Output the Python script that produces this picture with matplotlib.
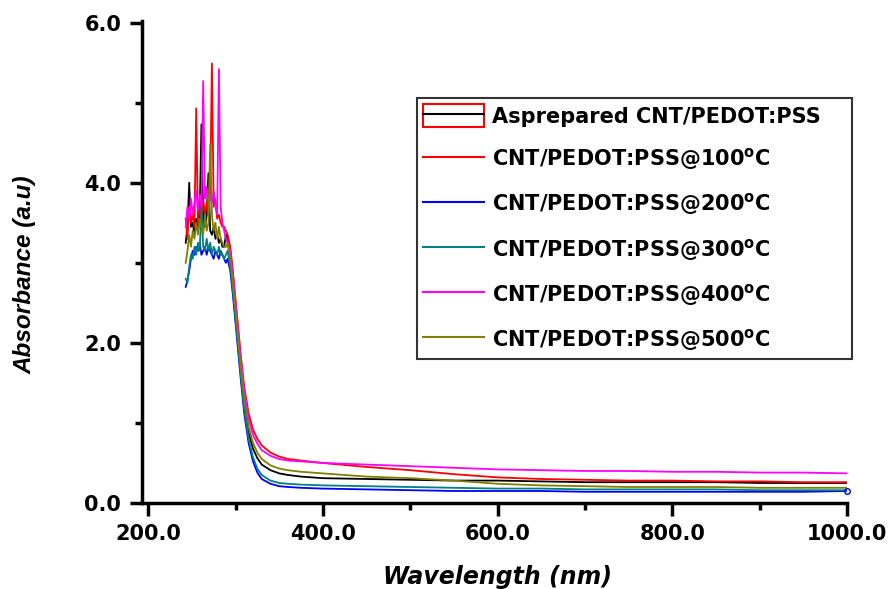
import matplotlib
matplotlib.use("Agg")
import matplotlib.pyplot as plt
from matplotlib.lines import Line2D
from matplotlib.patches import Patch
from matplotlib.legend_handler import HandlerTuple
from matplotlib.ticker import MultipleLocator, FormatStrFormatter

plt.rcParams["mathtext.default"] = "regular"

# Wavelength grid (nm): dense in the noisy UV region, coarser along the tail
wl_uv = [243, 245, 247, 249, 251, 253, 255, 257, 259, 261, 263, 265, 267,
         269, 271, 273, 275, 277, 279, 281, 283, 285, 287, 289, 291]
wl_tail = [294, 297, 300, 303, 306, 310, 315, 320, 325, 330, 340, 350, 360,
           375, 400, 450, 500, 550, 600, 650, 700, 750, 800, 850, 900, 950, 1000]
wavelength = wl_uv + wl_tail

labels = [
    "Asprepared CNT/PEDOT:PSS",
    "CNT/PEDOT:PSS@100$^{o}$C",
    "CNT/PEDOT:PSS@200$^{o}$C",
    "CNT/PEDOT:PSS@300$^{o}$C",
    "CNT/PEDOT:PSS@400$^{o}$C",
    "CNT/PEDOT:PSS@500$^{o}$C",
]
colors = ["#000000", "#ff0000", "#0000ff", "#008080", "#ff00ff", "#808000"]

abs_asprepared = [
    3.25, 3.45, 4.00, 3.45, 3.50, 3.35, 3.55, 3.40, 3.60, 4.73, 3.50, 3.45, 3.60,
    4.12, 3.40, 3.35, 3.45, 3.30, 3.35, 3.25, 3.30, 3.20, 3.20, 3.35, 3.30,
    3.00, 2.70, 2.35, 2.00, 1.65, 1.25, 0.88, 0.68, 0.56, 0.48, 0.41, 0.37, 0.35,
    0.33, 0.31, 0.30, 0.29, 0.28, 0.28, 0.27, 0.26, 0.26, 0.26, 0.26, 0.25, 0.25, 0.25,
]
abs_100 = [
    3.55, 3.30, 3.70, 3.50, 3.60, 3.45, 4.93, 3.50, 3.70, 3.55, 3.80, 3.60, 3.75,
    3.60, 3.90, 5.49, 3.70, 3.80, 3.55, 3.60, 3.50, 3.45, 3.45, 3.40, 3.35,
    3.20, 2.90, 2.55, 2.20, 1.85, 1.45, 1.12, 0.92, 0.80, 0.72, 0.63, 0.58, 0.55,
    0.53, 0.50, 0.45, 0.41, 0.36, 0.32, 0.30, 0.29, 0.28, 0.28, 0.27, 0.27, 0.26, 0.26,
]
abs_200 = [
    2.70, 2.78, 2.90, 3.05, 3.15, 3.10, 3.20, 3.15, 3.25, 3.10, 3.15, 3.20, 3.10,
    3.20, 3.15, 3.10, 3.05, 3.15, 3.10, 3.05, 3.15, 3.10, 3.05, 3.00, 3.05,
    2.90, 2.60, 2.25, 1.90, 1.55, 1.12, 0.75, 0.52, 0.38, 0.30, 0.24, 0.21, 0.20,
    0.19, 0.18, 0.17, 0.16, 0.15, 0.15, 0.15, 0.14, 0.14, 0.14, 0.14, 0.14, 0.14, 0.15,
]
abs_300 = [
    2.80, 2.75, 2.95, 3.10, 3.05, 3.20, 3.10, 3.25, 3.15, 3.70, 3.20, 3.15, 3.30,
    3.15, 3.25, 3.10, 3.20, 3.15, 3.10, 3.20, 3.10, 3.10, 3.05, 3.10, 3.15,
    2.95, 2.65, 2.30, 1.95, 1.60, 1.18, 0.80, 0.57, 0.43, 0.35, 0.28, 0.25, 0.24,
    0.23, 0.22, 0.21, 0.20, 0.19, 0.18, 0.18, 0.17, 0.17, 0.17, 0.17, 0.16, 0.16, 0.16,
]
abs_400 = [
    3.45, 3.70, 3.55, 3.80, 3.60, 3.75, 3.90, 3.65, 3.85, 3.70, 5.27, 3.80, 3.95,
    3.70, 3.85, 3.75, 3.90, 3.70, 3.60, 5.42, 3.70, 3.50, 3.40, 3.30, 3.25,
    3.15, 2.85, 2.50, 2.15, 1.80, 1.40, 1.05, 0.85, 0.74, 0.66, 0.59, 0.55, 0.53,
    0.52, 0.50, 0.48, 0.46, 0.44, 0.42, 0.41, 0.40, 0.40, 0.39, 0.39, 0.38, 0.38, 0.37,
]
abs_500 = [
    3.00, 3.15, 3.35, 3.20, 3.40, 3.30, 3.50, 3.35, 3.55, 3.45, 3.35, 3.60, 3.40,
    3.50, 4.48, 3.60, 3.40, 3.50, 3.30, 3.45, 3.30, 3.25, 3.20, 3.20, 3.25,
    3.05, 2.75, 2.40, 2.05, 1.70, 1.30, 0.95, 0.75, 0.63, 0.55, 0.47, 0.43, 0.41,
    0.39, 0.37, 0.33, 0.31, 0.28, 0.24, 0.22, 0.21, 0.20, 0.20, 0.20, 0.19, 0.19, 0.19,
]
series = [abs_asprepared, abs_100, abs_200, abs_300, abs_400, abs_500]

fig = plt.figure(figsize=(8.95, 5.89), dpi=100)
ax = fig.add_axes([0.1587, 0.146, 0.7877, 0.8183])

lines = []
for y, c, lab in zip(series, colors, labels):
    ln, = ax.plot(wavelength, y, color=c, lw=1.3, label=lab)
    lines.append(ln)
# open circle at the end of the 200 °C trace
ax.plot(wavelength[-1:], abs_200[-1:], marker="o", ms=4, mfc="none",
        mec="#0000ff", mew=1.0, ls="none", clip_on=False)

ax.set_xlim(193, 1000)
ax.set_ylim(0, 6.02)
ax.xaxis.set_major_locator(MultipleLocator(200))
ax.xaxis.set_minor_locator(MultipleLocator(100))
ax.yaxis.set_major_locator(MultipleLocator(2))
ax.yaxis.set_minor_locator(MultipleLocator(1))
ax.xaxis.set_major_formatter(FormatStrFormatter("%.1f"))
ax.yaxis.set_major_formatter(FormatStrFormatter("%.1f"))

for side in ("top", "right"):
    ax.spines[side].set_visible(False)
for side in ("left", "bottom"):
    ax.spines[side].set_linewidth(2.5)

ax.tick_params(which="major", direction="out", length=9, width=2.5, pad=6)
ax.tick_params(which="minor", direction="out", length=5, width=2.5)
for lbl in ax.get_xticklabels() + ax.get_yticklabels():
    lbl.set_fontfamily("DejaVu Sans")
    lbl.set_fontweight("bold")
    lbl.set_fontsize(15)

ax.set_xlabel("Wavelength (nm)", fontfamily="DejaVu Sans", fontweight="bold",
              fontstyle="italic", fontsize=17)
ax.xaxis.set_label_coords(0.504, -0.128)
ax.set_ylabel("Absorbance (a.u)", fontfamily="Liberation Sans", fontweight="bold",
              fontstyle="italic", fontsize=17.5)
ax.yaxis.set_label_coords(-0.149, 0.473)

# first legend entry: black line inside a red outlined box
first_handle = (Patch(facecolor="none", edgecolor="#ff0000", lw=1.5),
                Line2D([], [], color="#000000", lw=1.5))
handles = [first_handle] + [Line2D([], [], color=c, lw=1.5) for c in colors[1:]]

leg = ax.legend(handles, labels, loc="upper left",
                bbox_to_anchor=(0.390, 0.305, 0.617, 0.535), mode="expand",
                borderaxespad=0, frameon=True, fancybox=False, shadow=False,
                prop={"family": "DejaVu Sans", "weight": "bold", "size": 15},
                handlelength=2.9, handleheight=1.3, handletextpad=0.42,
                labelspacing=0.92, borderpad=0.3,
                handler_map={tuple: HandlerTuple(ndivide=1, pad=0)})
leg.get_frame().set_edgecolor("#000000")
leg.get_frame().set_linewidth(1.5)

fig.savefig("out.png", dpi=100)
